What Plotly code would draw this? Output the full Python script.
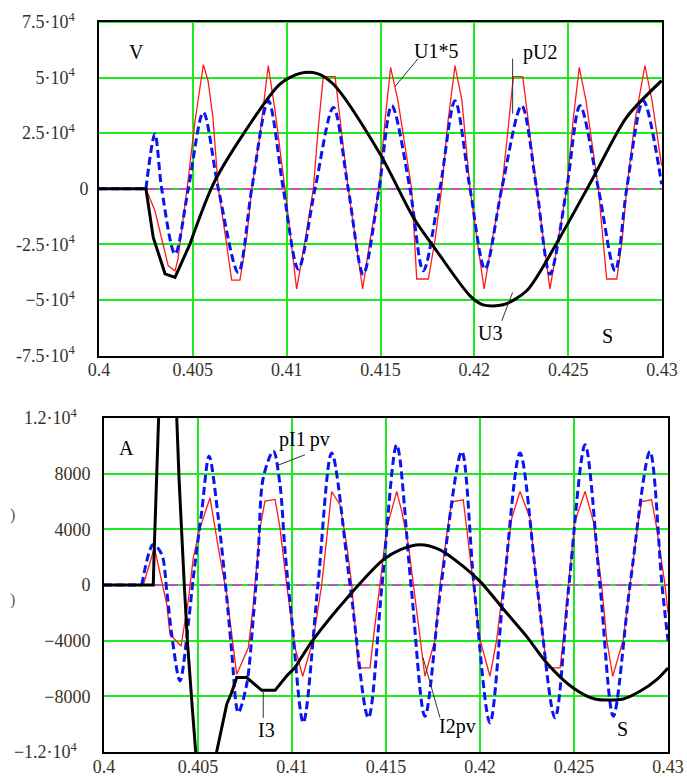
import plotly.graph_objects as go

# ---------------- time axis (s) ----------------
T_START, T_END = 0.4, 0.43
x_ticks = [0.4, 0.405, 0.41, 0.415, 0.42, 0.425, 0.43]
x_tick_text = ["0.4", "0.405", "0.41", "0.415", "0.42", "0.425", "0.43"]

# ---------------- upper panel: voltages (V) ----------------
PAD = "\u00a0\u00a0\u00a0"
v_ticks = [-75000, -50000, -25000, 0, 25000, 50000, 75000]
v_tick_text = ["-7.5·10<sup>4</sup>" + PAD,
               "\u22125·10<sup>4</sup>" + PAD,
               "-2.5·10<sup>4</sup>" + PAD,
               "0",
               "2.5·10<sup>4</sup>" + PAD,
               "5·10<sup>4</sup>" + PAD,
               "7.5·10<sup>4</sup>" + PAD]

# U1*5 (t, V)
u1x5 = [(0.4000, 0), (0.40250, 0), (0.40298, -9900), (0.40334, -21900), (0.40369, -34650),
        (0.40405, -36900), (0.40421, -31500), (0.40469, 0), (0.40512, 30600), (0.40556, 55800),
        (0.40581, 48600), (0.40607, 32100), (0.40636, 0), (0.40680, -24900), (0.40707, -41100),
        (0.40751, -41100), (0.40787, -21900), (0.40814, 0), (0.40858, 24600), (0.40902, 55350),
        (0.40938, 35100), (0.40991, 0), (0.41053, -45100), (0.41098, -23400), (0.41142, 0),
        (0.41167, 26100), (0.41195, 50400), (0.41258, 50400), (0.41284, 30600), (0.41328, 0),
        (0.41405, -45100), (0.41444, -23400), (0.41492, 0), (0.41524, 30600), (0.41554, 54600),
        (0.41593, 39600), (0.41666, 0), (0.41693, -40600), (0.41755, -40600), (0.41790, -23400),
        (0.41826, 0), (0.41860, 30600), (0.41897, 55350), (0.41934, 39600), (0.41977, 0),
        (0.42052, -45100), (0.42094, -23400), (0.42146, 0), (0.42179, 26100), (0.42208, 50400),
        (0.42258, 50400), (0.42286, 30600), (0.42332, 0), (0.42403, -45100), (0.42446, -23400),
        (0.42492, 0), (0.42526, 30600), (0.42559, 54600), (0.42595, 39600), (0.42661, 0),
        (0.42705, -40600), (0.42759, -40600), (0.42787, -23400), (0.42812, 0), (0.42856, 30600),
        (0.42909, 55350), (0.42947, 39600), (0.42998, 10350)]

# pU2 (t, V)
pu2 = [(0.4000, 0), (0.40250, 0), (0.40298, 24600), (0.40334, 0), (0.40405, -29400),
       (0.40476, 0), (0.40556, 34300), (0.40636, 0), (0.40742, -37650), (0.40814, 0),
       (0.40902, 39600), (0.40982, 0), (0.41062, -36150), (0.41151, 0), (0.41249, 36600),
       (0.41328, 0), (0.41408, -38400), (0.41492, 0), (0.41560, 37350), (0.41657, 0),
       (0.41728, -36900), (0.41817, 0), (0.41897, 39600), (0.41977, 0), (0.42057, -36150),
       (0.42146, 0), (0.42252, 37350), (0.42332, 0), (0.42403, -38400), (0.42492, 0),
       (0.42563, 37350), (0.42661, 0), (0.42750, -36900), (0.42812, 0), (0.42900, 39600),
       (0.42998, 2000)]
PU2_SMOOTH_FROM = 1

# U3 (t, V)
u3 = [(0.4000, 0), (0.40250, 0), (0.40289, -21900), (0.40352, -38250), (0.40405, -39900),
      (0.40485, -24750), (0.40609, 2100), (0.40769, 24600), (0.40964, 47100), (0.41071, 51900),
      (0.41160, 51900), (0.41248, 47100), (0.41497, 15750), (0.41675, -12900), (0.41799, -27900),
      (0.41977, -48150), (0.42046, -52200), (0.42153, -52200), (0.42279, -45900), (0.42456, -21900),
      (0.42634, 5100), (0.42811, 32100), (0.42998, 48600)]
U3_SMOOTH_FROM = 5

# ---------------- lower panel: currents (A) ----------------
a_ticks = [-12000, -8000, -4000, 0, 4000, 8000, 12000]
a_tick_text = ["\u22121.2·10<sup>4</sup>" + PAD, "\u22128000", "\u22124000", "0",
               "4000", "8000", "1.2·10<sup>4</sup>" + PAD]

# I2pv (t, A)
i2pv = [(0.4000, 0), (0.40209, 0), (0.40268, 2680), (0.40334, -1390), (0.40351, -3550),
        (0.40410, -4380), (0.40448, -1150), (0.40475, 1960), (0.40511, 4110), (0.40564, 6270),
        (0.40617, 1960), (0.40653, -670), (0.40706, -6420), (0.40768, -4500), (0.40794, -1390),
        (0.40830, 4110), (0.40856, 6030), (0.40910, 6150), (0.40936, 4110), (0.40972, 0),
        (0.41016, -4500), (0.41057, -6560), (0.41113, -3930), (0.41158, 0), (0.41211, 6720),
        (0.41255, 5770), (0.41291, 2890), (0.41318, 0), (0.41353, -5960), (0.41415, -5960),
        (0.41432, -3930), (0.41468, 0), (0.41504, 4090), (0.41557, 6720), (0.41584, 5280),
        (0.41619, 2890), (0.41645, 0), (0.41681, -3930), (0.41707, -6560), (0.41761, -3930),
        (0.41787, 0), (0.41840, 5280), (0.41858, 6000), (0.41911, 6120), (0.41929, 4090),
        (0.41964, 0), (0.42000, -3930), (0.42053, -6560), (0.42089, -3930), (0.42124, 0),
        (0.42169, 4810), (0.42213, 6720), (0.42266, 4810), (0.42302, 0), (0.42337, -3930),
        (0.42355, -5960), (0.42426, -5960), (0.42443, -3930), (0.42470, 0), (0.42505, 4570),
        (0.42559, 6720), (0.42603, 4570), (0.42647, 0), (0.42674, -3930), (0.42706, -6560),
        (0.42762, -3930), (0.42798, 0), (0.42842, 4570), (0.42860, 6000), (0.42913, 6120),
        (0.42940, 4090), (0.42984, 0), (0.43000, -2000)]

# pI1pv (t, A)
pi1pv = [(0.4000, 0), (0.40201, 0), (0.40262, 2920), (0.40307, 2200), (0.40334, -430),
         (0.40360, -3550), (0.40404, -6890), (0.40448, -2830), (0.40475, 520), (0.40520, 5310),
         (0.40559, 9260), (0.40608, 4830), (0.40653, -910), (0.40679, -4740), (0.40714, -9170),
         (0.40759, -7140), (0.40794, -2350), (0.40821, 2440), (0.40847, 7700), (0.40901, 9620),
         (0.40936, 7220), (0.40963, 2440), (0.40998, -2350), (0.41060, -9890), (0.41138, 0),
         (0.41211, 9480), (0.41309, 0), (0.41406, -9550), (0.41479, 0), (0.41557, 10070),
         (0.41633, 0), (0.41707, -9430), (0.41793, 0), (0.41903, 9590), (0.41968, 0),
         (0.42053, -9910), (0.42128, 0), (0.42213, 9480), (0.42303, 0), (0.42399, -9550),
         (0.42473, 0), (0.42559, 10070), (0.42638, 0), (0.42709, -9430), (0.42798, 0),
         (0.42904, 9590), (0.42968, 0), (0.43000, -4000)]
PI1PV_SMOOTH_FROM = 1

# I3 (t, A) -- the switching spike runs off scale
i3 = [(0.4000, 0), (0.40262, 0), (0.40268, 2900), (0.40275, 7700), (0.40284, 12000),
      (0.40335, 30000), (0.40387, 12000), (0.40399, 7700), (0.40427, 0), (0.40445, -4300),
      (0.40470, -8900), (0.40488, -12000), (0.40543, -17000), (0.40599, -12000), (0.40653, -8570),
      (0.40679, -7730), (0.40706, -6650), (0.40759, -6650), (0.40839, -7570), (0.40910, -7570),
      (0.40972, -6530), (0.41016, -5940), (0.41113, -3930), (0.41300, -820), (0.41486, 1820),
      (0.41574, 2530), (0.41681, 2890), (0.41787, 2530), (0.41911, 1340), (0.42000, 260),
      (0.42142, -2010), (0.42248, -3690), (0.42355, -5600), (0.42496, -7400), (0.42612, -8190),
      (0.42762, -8190), (0.42851, -7640), (0.42940, -6800), (0.43000, -5960)]
I3_SMOOTH_FROM = 21

# zero reference trace
zero_ref = [(T_START, 0), (T_END, 0)]


def cols(pairs):
    return [p[0] for p in pairs], [p[1] for p in pairs]


SERIF = "Liberation Serif"
GRID = "#1fea1f"
TICK_COLOR = "#3a3128"
RED = "#ff1a1a"
BLUE = "#0a14f0"

fig = go.Figure()


def add(pairs, xa, ya, color, width, dash="solid", shape="linear", smoothing=1.0):
    t, v = cols(pairs)
    fig.add_trace(go.Scatter(x=t, y=v, mode="lines", xaxis=xa, yaxis=ya,
                             line=dict(color=color, width=width, dash=dash, shape=shape,
                                       smoothing=smoothing),
                             hoverinfo="skip", showlegend=False))


def add_split(pairs, k, xa, ya, color, width, dash="solid", smoothing=0.8):
    # straight segments up to index k, smoothed curve from k onward
    add(pairs[:k + 1], xa, ya, color, width, dash=dash)
    add(pairs[k:], xa, ya, color, width, dash=dash, shape="spline", smoothing=smoothing)


# upper panel
add(zero_ref, "x", "y", "#ee22ee", 1.3, dash="10px,6px")
add(u1x5, "x", "y", RED, 1.3)
add_split(pu2, PU2_SMOOTH_FROM, "x", "y", BLUE, 3, dash="8px,4px", smoothing=0.9)
add_split(u3, U3_SMOOTH_FROM, "x", "y", "black", 3)

# lower panel
add(zero_ref, "x2", "y2", "#ee22ee", 1.3, dash="10px,6px")
add(i2pv, "x2", "y2", RED, 1.3)
add_split(pi1pv, PI1PV_SMOOTH_FROM, "x2", "y2", BLUE, 3, dash="8px,4px", smoothing=0.9)
add_split(i3, I3_SMOOTH_FROM, "x2", "y2", "black", 3)

W, H = 687, 778

xcommon = dict(range=[T_START, T_END], tickvals=x_ticks, ticktext=x_tick_text,
               showgrid=True, gridcolor=GRID, gridwidth=1.5, zeroline=False,
               showline=True, linecolor="black", linewidth=2, mirror=True,
               ticks="", ticklabelstandoff=-3, automargin=False,
               tickfont=dict(family=SERIF, size=18, color=TICK_COLOR))
ycommon = dict(showgrid=True, gridcolor=GRID, gridwidth=1.5, zeroline=False,
               showline=True, linecolor="black", linewidth=2, mirror=True,
               ticks="", automargin=False,
               tickfont=dict(family=SERIF, size=18, color=TICK_COLOR))

fig.update_layout(
    width=W, height=H,
    margin=dict(l=0, r=0, t=0, b=0, autoexpand=False),
    paper_bgcolor="white", plot_bgcolor="white",
    xaxis=dict(xcommon, domain=[99 / W, 662 / W], anchor="y"),
    yaxis=dict(ycommon, domain=[1 - 355.5 / H, 1 - 22 / H], anchor="x",
               range=[-75000, 75000], tickvals=v_ticks, ticktext=v_tick_text,
               ticklabelstandoff=5),
    xaxis2=dict(xcommon, domain=[104 / W, 668 / W], anchor="y2"),
    yaxis2=dict(ycommon, domain=[1 - 752 / H, 1 - 418 / H], anchor="x2",
                range=[-12000, 12000], tickvals=a_ticks, ticktext=a_tick_text,
                ticklabelstandoff=8),
)

# green top edge of the voltage panel
fig.add_shape(type="line", xref="x", yref="y", x0=T_START, x1=T_END, y0=75000, y1=75000,
              line=dict(color=GRID, width=2), layer="above")

LEAD = dict(color="#333333", width=1)
# leader lines: voltage panel
fig.add_shape(type="line", xref="x", yref="y", x0=0.41700, y0=58500, x1=0.41577, y1=45900, line=LEAD)
fig.add_shape(type="line", xref="x", yref="y", x0=0.42204, y0=58500, x1=0.42204, y1=33750, line=LEAD)
fig.add_shape(type="line", xref="x", yref="y", x0=0.42146, y0=-59400, x1=0.42204, y1=-46650, line=LEAD)
# leader lines: current panel
fig.add_shape(type="line", xref="x2", yref="y2", x0=0.41069, y0=9360, x1=0.40919, y1=8570, line=LEAD)
fig.add_shape(type="line", xref="x2", yref="y2", x0=0.40847, y0=-7640, x1=0.40847, y1=-9550, line=LEAD)
fig.add_shape(type="line", xref="x2", yref="y2", x0=0.41697, y0=-5220, x1=0.41787, y1=-9530, line=LEAD)

LBL = dict(family=SERIF, size=20, color="black")


def label(text, x, y, xref, yref):
    fig.add_annotation(text=text, x=x, y=y, xref=xref, yref=yref, showarrow=False,
                       font=LBL, xanchor="center", yanchor="middle")


label("V", 0.40201, 61300, "x", "y")
label("U1*5", 0.41796, 62100, "x", "y")
label("pU2", 0.42350, 61200, "x", "y")
label("U3", 0.42083, -64800, "x", "y")
label("S", 0.42712, -66150, "x", "y")

label("A", 0.40122, 9860, "x2", "y2")
label("pI1\u2009pv", 0.41069, 10430, "x2", "y2")
label("I3", 0.40862, -10390, "x2", "y2")
label("I2pv", 0.41878, -10170, "x2", "y2")
label("S", 0.42759, -10370, "x2", "y2")

# clipped bracket glyphs at the far left of the current panel
for yp in (515, 600):
    fig.add_annotation(text=")", x=12 / W, y=1 - yp / H, xref="paper", yref="paper",
                       showarrow=False, font=dict(family=SERIF, size=16, color="#555555"),
                       xanchor="center", yanchor="middle")

fig.write_html("out.html")
